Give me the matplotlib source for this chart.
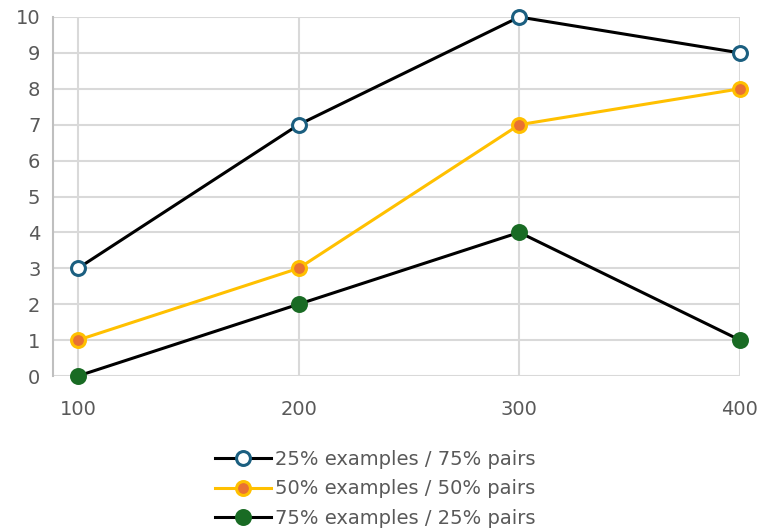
import matplotlib.pyplot as plt

x = [100, 200, 300, 400]
s25 = [3, 7, 10, 9]
s50 = [1, 3, 7, 8]
s75 = [0, 2, 4, 1]
labels = ['25% examples / 75% pairs', '50% examples / 50% pairs', '75% examples / 25% pairs']

fig = plt.figure(figsize=(7.61, 5.29), dpi=100)
ax = fig.add_axes([53 / 761, 1 - 376 / 529, (740 - 53) / 761, (376 - 17) / 529])

ax.plot(x, s25, color='black', lw=2.2, marker='o', ms=10, mfc='white', mec='#1b5f80', mew=2.2,
        label=labels[0], zorder=3, clip_on=False)
ax.plot(x, s50, color='#ffc000', lw=2.2, marker='o', ms=10, mfc='#e97132', mec='#ffc000', mew=2.2,
        label=labels[1], zorder=3, clip_on=False)
ax.plot(x, s75, color='black', lw=2.2, marker='o', ms=10, mfc='#196b24', mec='#196b24', mew=2.2,
        label=labels[2], zorder=3, clip_on=False)

ax.set_xlim(88.7, 400)
ax.set_ylim(0, 10)
ax.set_xticks(x)
ax.set_yticks(range(0, 11))
ax.grid(True, color='#d9d9d9', lw=1.5)
ax.set_axisbelow(True)
for side in ['top', 'right', 'bottom']:
    ax.spines[side].set_visible(False)
ax.spines['left'].set_color('#bfbfbf')
ax.spines['left'].set_linewidth(1.5)
ax.tick_params(length=0, labelsize=14, labelcolor='#595959')
ax.tick_params(axis='y', pad=9)
ax.tick_params(axis='x', pad=17)

fig.legend(loc='upper center', bbox_to_anchor=(375 / 761, 1 - 440 / 529),
           frameon=False, fontsize=14, labelcolor='#595959', handlelength=2.9, handletextpad=0.2,
           labelspacing=0.55, borderpad=0)

fig.savefig('out.png', dpi=100)
